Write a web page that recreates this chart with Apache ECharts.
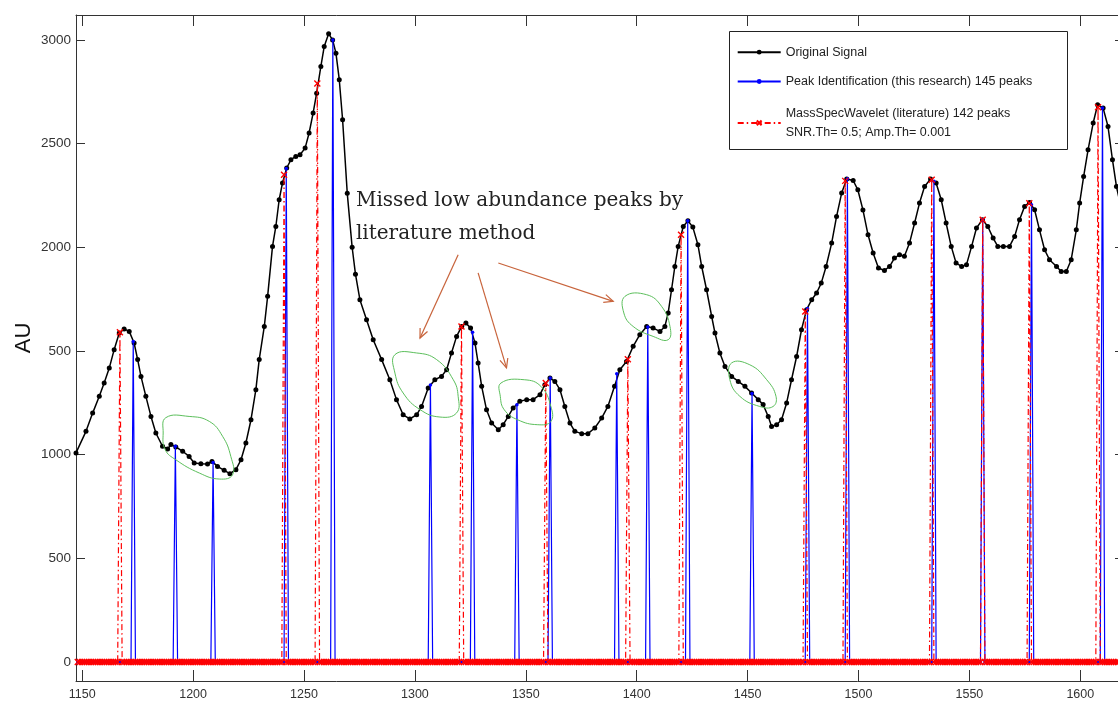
<!DOCTYPE html>
<html>
<head>
<meta charset="utf-8">
<title>Peak identification vs MassSpecWavelet</title>
<script src="https://cdn.jsdelivr.net/npm/echarts@6/dist/echarts.min.js"></script>
<style>
    html, body { margin: 0; padding: 0; background: #fff; }
    #chart { width: 1118px; height: 701px; }
</style>
</head>
<body>
<div id="chart"></div>
<script>
    // axis ticks
    let xTicks = [1150, 1200, 1250, 1300, 1350, 1400, 1450, 1500, 1550, 1600]
    let yTicks = [0, 500, 1000, 1500, 2000, 2500, 3000]
    // the "1" of 1500 is hidden behind the AU label in the original
    let yTickLabels = ['0', '500', '1000', '500', '2000', '2500', '3000']

    // original signal
    let signalX = [1147.2, 1151.7, 1154.7, 1157.7, 1159.9, 1162.2, 1164.4, 1166.7, 1168.9, 1171.2,
        1173.4, 1175.0, 1176.5, 1178.7, 1181.0, 1183.2, 1186.2, 1188.5, 1190.0, 1192.2,
        1195.3, 1198.2, 1200.5, 1203.5, 1206.5, 1208.5, 1211.0, 1214.0, 1216.6, 1219.3,
        1221.6, 1223.8, 1226.1, 1228.3, 1229.8, 1232.1, 1233.6, 1235.8, 1237.3, 1238.8,
        1240.3, 1242.2, 1244.1, 1246.3, 1248.2, 1250.5, 1252.3, 1254.1, 1255.7, 1257.6,
        1259.1, 1261.1, 1262.9, 1264.4, 1265.9, 1267.4, 1269.5, 1271.7, 1273.2, 1275.2,
        1278.2, 1281.2, 1285.0, 1288.7, 1291.7, 1294.7, 1297.7, 1300.8, 1303.0, 1306.0,
        1309.0, 1312.0, 1314.3, 1316.5, 1318.8, 1321.1, 1323.0, 1325.1, 1327.1, 1328.5,
        1330.1, 1332.3, 1334.6, 1337.6, 1339.8, 1342.1, 1344.3, 1347.3, 1350.4, 1353.3,
        1356.4, 1358.6, 1360.9, 1363.1, 1365.4, 1367.6, 1369.9, 1372.1, 1375.2, 1378.0,
        1381.1, 1384.2, 1387.0, 1390.0, 1392.4, 1395.4, 1398.4, 1401.4, 1404.5, 1407.4,
        1410.5, 1412.7, 1414.2, 1415.7, 1417.2, 1418.7, 1421.0, 1423.1, 1425.3, 1427.6,
        1429.3, 1431.5, 1433.8, 1435.3, 1437.5, 1439.8, 1442.8, 1445.8, 1448.8, 1451.8,
        1454.8, 1457.0, 1459.3, 1460.8, 1463.1, 1465.3, 1467.6, 1469.8, 1472.1, 1474.3,
        1476.6, 1478.9, 1481.1, 1483.2, 1485.4, 1487.9, 1490.1, 1492.4, 1494.7, 1497.6,
        1499.7, 1502.0, 1504.3, 1506.6, 1509.0, 1511.7, 1514.0, 1516.2, 1518.5, 1520.7,
        1523.0, 1525.3, 1527.5, 1529.8, 1532.5, 1535.0, 1537.3, 1539.5, 1541.8, 1544.0,
        1546.5, 1548.7, 1551.0, 1553.2, 1555.9, 1558.3, 1560.7, 1562.8, 1565.3, 1568.1,
        1570.4, 1572.6, 1574.9, 1577.1, 1579.4, 1581.6, 1583.9, 1586.1, 1589.3, 1591.4,
        1593.7, 1595.9, 1598.2, 1599.7, 1601.5, 1603.5, 1605.8, 1607.8, 1610.3, 1612.5,
        1614.5, 1616.3, 1618.2]
    let signalY = [1008, 1112, 1200, 1281, 1345, 1417, 1506, 1586, 1606, 1594,
        1538, 1458, 1377, 1281, 1184, 1104, 1040, 1027, 1048, 1037,
        1016, 991, 959, 956, 955, 967, 943, 924, 908, 927,
        975, 1056, 1168, 1313, 1458, 1618, 1763, 2004, 2100, 2229,
        2310, 2382, 2422, 2438, 2446, 2478, 2551, 2647, 2743, 2872,
        2968, 3029, 3000, 2936, 2808, 2615, 2260, 2000, 1870, 1747,
        1650, 1554, 1458, 1361, 1265, 1192, 1172, 1192, 1232, 1321,
        1361, 1377, 1409, 1490, 1570, 1618, 1634, 1610, 1538, 1442,
        1329, 1216, 1152, 1120, 1144, 1184, 1225, 1257, 1265, 1265,
        1289, 1337, 1369, 1353, 1313, 1232, 1152, 1112, 1101, 1101,
        1128, 1176, 1232, 1329, 1409, 1449, 1522, 1578, 1618, 1610,
        1594, 1618, 1683, 1795, 1907, 2004, 2100, 2128, 2097, 2012,
        1907, 1795, 1666, 1586, 1490, 1425, 1377, 1353, 1329, 1297,
        1265, 1241, 1184, 1136, 1144, 1168, 1249, 1361, 1473, 1602,
        1699, 1747, 1779, 1827, 1907, 2020, 2148, 2261, 2329, 2322,
        2277, 2180, 2060, 1972, 1900, 1888, 1907, 1948, 1964, 1956,
        2020, 2117, 2213, 2293, 2329, 2310, 2229, 2117, 2004, 1924,
        1907, 1916, 2004, 2093, 2133, 2100, 2044, 2004, 2004, 2004,
        2052, 2133, 2197, 2216, 2181, 2084, 1988, 1940, 1907, 1883,
        1883, 1940, 2084, 2213, 2341, 2470, 2599, 2687, 2671, 2582,
        2422, 2293, 2200]

    // Peak Identification (this research)
    let bluePeakX = [1173, 1192, 1209, 1242, 1263, 1307, 1326, 1346, 1361, 1391,
        1405, 1423, 1452, 1477, 1495, 1534, 1556, 1578, 1610]
    let bluePeakY = [1545, 1040, 962, 2380, 3000, 1335, 1590, 1240, 1369, 1390,
        1615, 2128, 1295, 1705, 2330, 2318, 2133, 2205, 2672]

    // MassSpecWavelet (literature)
    let redPeakX = [1167, 1241, 1256, 1321, 1359, 1396, 1420, 1476, 1494, 1533,
        1556, 1577, 1608]
    let redPeakY = [1590, 2350, 2790, 1618, 1345, 1460, 2060, 1690, 2320, 2325,
        2133, 2212, 2675]

    let legendNames = ['Original Signal', 'Peak Identification (this research) 145 peaks', 'MassSpecWavelet (literature) 142 peaks']
    let legendNote = 'SNR.Th= 0.5; Amp.Th= 0.001'
    let noteLines = ['Missed low abundance peaks by', 'literature method']

    // hand drawn marks, in data units
    let loops = [
        [[1187.7, 1178], [1198.2, 1184], [1207.3, 1160], [1213.3, 1088], [1217.0, 991], [1217.8, 903], [1211.8, 882], [1202.8, 911], [1192.2, 975], [1187.4, 1024], [1186.5, 1104]],
        [[1291.0, 1482], [1300.8, 1490], [1309.8, 1458], [1317.3, 1361], [1319.5, 1281], [1318.8, 1201], [1311.3, 1181], [1302.3, 1217], [1294.7, 1297], [1291.0, 1393]],
        [[1338.8, 1345], [1349.3, 1361], [1356.8, 1329], [1361.3, 1232], [1361.3, 1160], [1355.4, 1144], [1346.3, 1168], [1340.3, 1216], [1338.5, 1281]],
        [[1394.7, 1763], [1404.5, 1771], [1411.2, 1715], [1415.0, 1618], [1414.2, 1554], [1407.4, 1570], [1398.4, 1618], [1394.2, 1683]],
        [[1442.8, 1442], [1451.0, 1433], [1458.6, 1361], [1462.8, 1281], [1461.5, 1232], [1455.5, 1232], [1446.5, 1281], [1442.0, 1361]]
    ]
    let arrows = [
        [[1319.5, 1964], [1302.3, 1562]],
        [[1328.5, 1876], [1341.3, 1418]],
        [[1337.6, 1924], [1389.4, 1739]]
    ]
    let noteAnchors = [[1273.4, 2224], [1273.4, 2063]]

    // stems: zero everywhere, peak value at the peak sample
    function stems (px, py) {
        let map = {}
        px.forEach((x, i) => { map[x] = py[i] })
        let out = []
        for (let x = 1148; x <= 1617; x++) {
            out.push([x, map[x] || 0])
        }
        return out
    }

    let axisColor = '#333'
    let tickFont = 'Liberation Sans, Arial, sans-serif'

    let chart = echarts.init(document.getElementById('chart'))
    let option = {
        animation: false,
        backgroundColor: '#fff',
        grid: {left: 76, top: 15, right: 0, bottom: 20, containLabel: false},
        xAxis: [
            {
                type: 'value', position: 'bottom', min: 1147.2, max: 1617.0,
                axisLine: {show: true, onZero: false, lineStyle: {color: axisColor, width: 1}},
                axisTick: {show: true, inside: true, length: 11, customValues: xTicks, lineStyle: {color: axisColor}},
                axisLabel: {
                    customValues: xTicks, margin: 7, fontSize: 12.5, color: '#333', fontFamily: tickFont,
                    formatter: v => String(v)
                },
                splitLine: {show: false}
            },
            {
                type: 'value', position: 'top', min: 1147.2, max: 1617.0,
                axisLine: {show: true, onZero: false, lineStyle: {color: axisColor, width: 1}},
                axisTick: {show: true, inside: true, length: 11, customValues: xTicks, lineStyle: {color: axisColor}},
                axisLabel: {show: false},
                splitLine: {show: false}
            }
        ],
        yAxis: [
            {
                type: 'value', position: 'left', min: -92, max: 3120,
                axisLine: {show: true, onZero: false, lineStyle: {color: axisColor, width: 1}},
                axisTick: {show: true, inside: true, length: 9, customValues: yTicks, lineStyle: {color: axisColor}},
                axisLabel: {
                    customValues: yTicks, margin: 5,
                    fontSize: 13.5, color: '#333', fontFamily: tickFont,
                    formatter: function (v) {
                        let i = yTicks.indexOf(v)
                        return i >= 0 ? yTickLabels[i] : ''
                    }
                },
                splitLine: {show: false}
            },
            {
                // the right border itself falls just outside the picture, only tick ends show
                type: 'value', position: 'right', min: -92, max: 3120,
                axisLine: {show: false},
                axisTick: {show: true, inside: true, length: 3, customValues: yTicks, lineStyle: {color: axisColor}},
                axisLabel: {show: false},
                splitLine: {show: false}
            }
        ],
        legend: {
            orient: 'vertical',
            left: 736.7,
            top: 45.7,
            padding: 0,
            itemWidth: 43,
            itemHeight: 6,
            itemGap: 16.3,
            z: 10,
            textStyle: {fontFamily: tickFont, fontSize: 12.5, color: '#222', lineHeight: 12},
            data: [
                {name: legendNames[0]},
                {name: legendNames[1]},
                {name: legendNames[2], textStyle: {lineHeight: 18.6}}
            ],
            formatter: function (name) {
                return name === legendNames[2] ? name + '\n' + legendNote : name
            }
        },
        series: [
            {
                name: legendNames[0],
                type: 'line',
                z: 2,
                data: signalX.map((x, i) => [x, signalY[i]]),
                symbol: 'circle',
                symbolSize: 5,
                itemStyle: {color: '#000'},
                lineStyle: {color: '#000', width: 1.5}
            },
            {
                name: legendNames[1],
                type: 'line',
                z: 3,
                data: stems(bluePeakX, bluePeakY),
                symbol: 'circle',
                symbolSize: 3.5,
                itemStyle: {color: '#0000ff'},
                lineStyle: {color: '#0000ff', width: 1.2}
            },
            {
                name: legendNames[2],
                type: 'line',
                z: 3,
                data: stems(redPeakX, redPeakY),
                symbol: 'path://M0,0L10,10M10,0L0,10',
                symbolSize: 6,
                itemStyle: {color: '#ff0000', borderColor: '#ff0000', borderWidth: 1.4},
                lineStyle: {color: '#ff0000', width: 1.2, type: [6, 3, 1.5, 3]}
            }
        ]
    }
    chart.setOption(option)

    // overlays: legend box, y label, hand drawn notes
    let toPx = p => chart.convertToPixel({xAxisIndex: 0, yAxisIndex: 0}, p)
    let green = '#5cbf5c'
    let brown = '#c8643c'
    let graphics = [
        {
            type: 'rect', z: 9,
            shape: {x: 729.5, y: 31.5, width: 338, height: 118},
            style: {fill: '#fff', stroke: '#222', lineWidth: 1}
        },
        {
            type: 'text', z: 9, x: 23.5, y: 338, rotation: Math.PI / 2,
            style: {text: 'AU', fontSize: 22, fontFamily: tickFont, fill: '#111', align: 'center', verticalAlign: 'middle'}
        }
    ]
    loops.forEach(function (loop) {
        graphics.push({
            type: 'polygon', z: 5,
            shape: {points: loop.map(toPx), smooth: 0.45},
            style: {fill: 'none', stroke: green, lineWidth: 1}
        })
    })
    arrows.forEach(function (a) {
        let p0 = toPx(a[0])
        let p1 = toPx(a[1])
        let ang = Math.atan2(p1[1] - p0[1], p1[0] - p0[0])
        let len = 10
        let h1 = [p1[0] - len * Math.cos(ang - 0.42), p1[1] - len * Math.sin(ang - 0.42)]
        let h2 = [p1[0] - len * Math.cos(ang + 0.42), p1[1] - len * Math.sin(ang + 0.42)]
        graphics.push({
            type: 'line', z: 5,
            shape: {x1: p0[0], y1: p0[1], x2: p1[0], y2: p1[1]},
            style: {stroke: brown, lineWidth: 1.2}
        })
        graphics.push({
            type: 'polyline', z: 5,
            shape: {points: [h1, p1, h2]},
            style: {fill: 'none', stroke: brown, lineWidth: 1.2}
        })
    })
    noteLines.forEach(function (t, i) {
        let p = toPx(noteAnchors[i])
        graphics.push({
            type: 'text', z: 6, x: p[0], y: p[1],
            style: {text: t, fontSize: 20, fontFamily: 'DejaVu Serif, serif', fill: '#222', align: 'left', verticalAlign: 'middle'}
        })
    })
    chart.setOption({graphic: graphics})
</script>
</body>
</html>
